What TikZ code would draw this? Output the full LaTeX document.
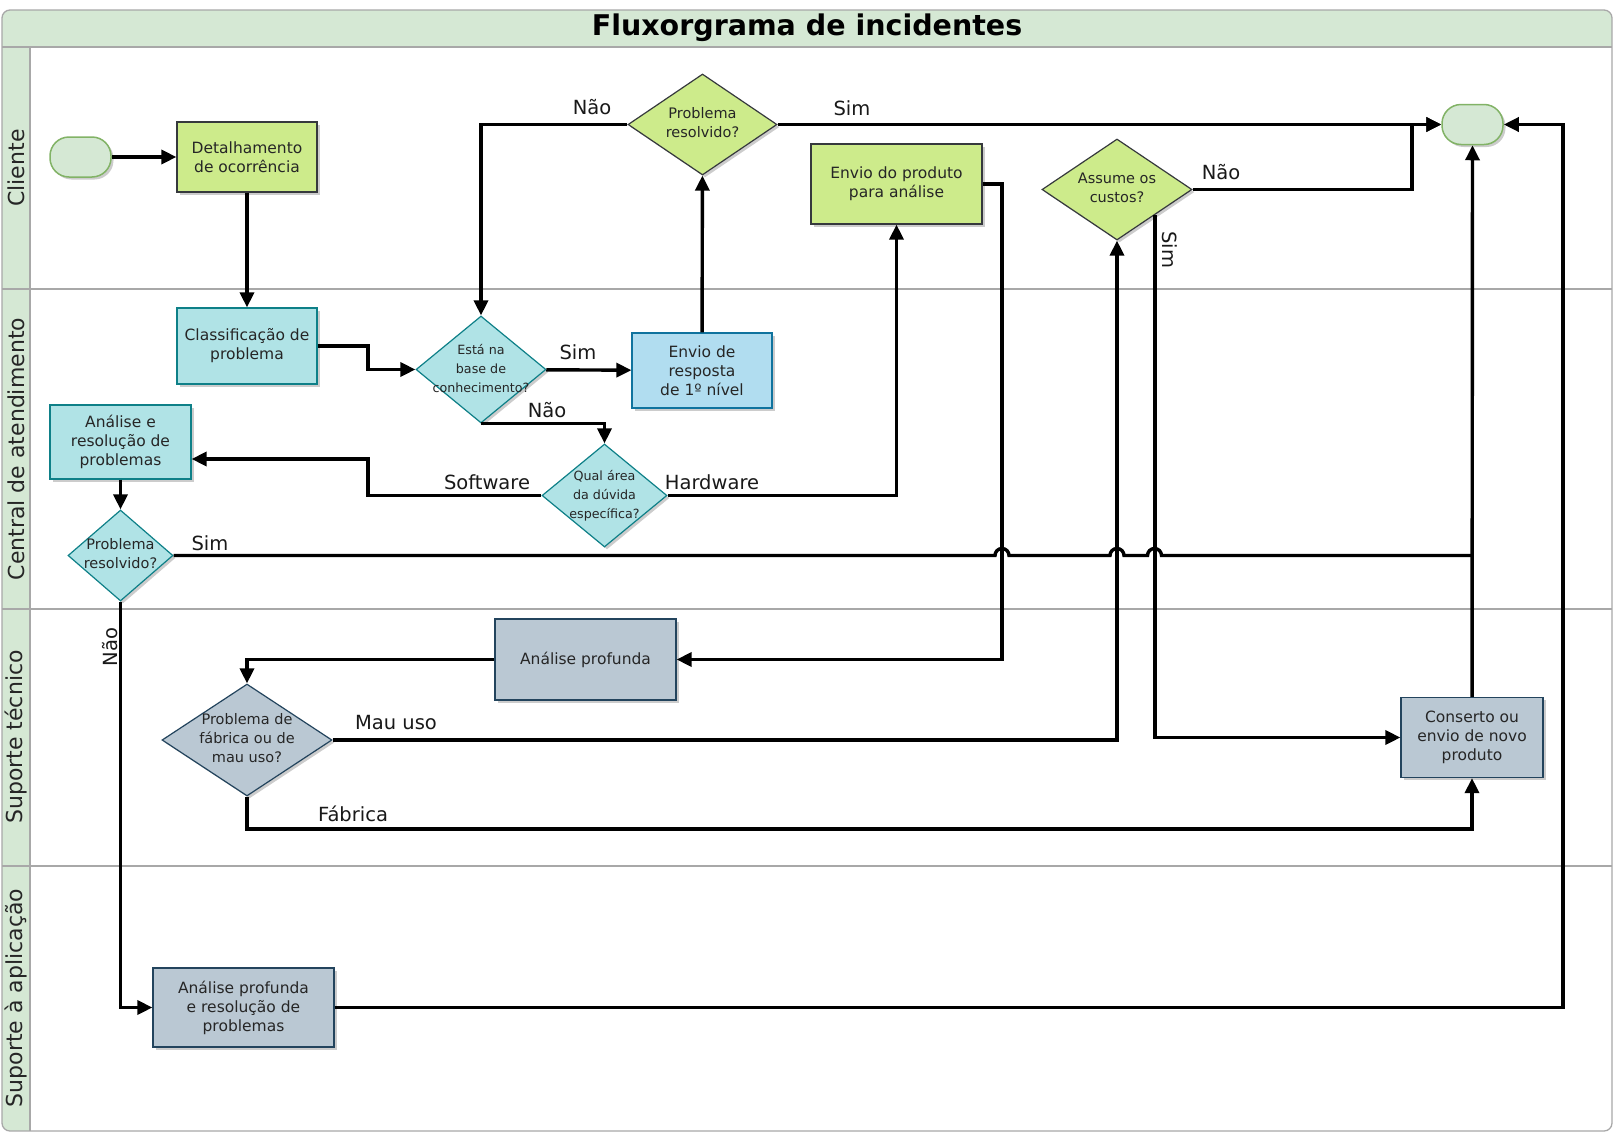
\documentclass[tikz,border=0pt]{standalone}
\usepackage{fontspec}
\setmainfont{DejaVu Sans}
\usetikzlibrary{shapes.geometric,arrows.meta,shadows}

\definecolor{lanegreen}{HTML}{D5E8D4}
\definecolor{termgreen}{HTML}{82B366}
\definecolor{rulegray}{HTML}{A8A8A8}
\definecolor{limefill}{HTML}{CDEB8B}
\definecolor{limedraw}{HTML}{36393D}
\definecolor{tealfill}{HTML}{B0E3E6}
\definecolor{tealdraw}{HTML}{0E8088}
\definecolor{bluefill}{HTML}{B1DDF0}
\definecolor{bluedraw}{HTML}{10739E}
\definecolor{slatefill}{HTML}{BAC8D3}
\definecolor{slatedraw}{HTML}{23445D}

\begin{document}
\begin{tikzpicture}[x=1pt,y=-1pt,
    flow/.style={line width=3.4pt,-{Triangle[length=15pt,width=14pt]}},
    merge/.style={line width=3.4pt},
    shdw/.style={drop shadow={shadow xshift=2.5pt,shadow yshift=-2.5pt,fill=black,opacity=0.2}},
    box/.style={rectangle,line width=1.2pt,align=center,text=black!85,font=\boxfont,shdw},
    dec/.style={diamond,line width=1.2pt,inner sep=0pt,text=black!85,font=\dfont,shdw},
    term/.style={rectangle,rounded corners=19pt,fill=lanegreen,draw=termgreen,line width=1.5pt,minimum width=61pt,minimum height=40pt,shdw},
    lbl/.style={font=\lblfont,inner sep=0pt,text=black!90},
    lanelbl/.style={font=\lanefont,rotate=90,text=black!85},
    lanerule/.style={draw=rulegray,line width=1.3pt},
    limebox/.style={fill=limefill,draw=limedraw},
    tealbox/.style={fill=tealfill,draw=tealdraw},
    bluebox/.style={fill=bluefill,draw=bluedraw},
    slatebox/.style={fill=slatefill,draw=slatedraw}]
    \newcommand{\boxfont}{\fontsize{15.5}{19}\selectfont}
    \newcommand{\dfont}{\fontsize{14.5}{19}\selectfont}
    \newcommand{\sdfont}{\fontsize{12.7}{19}\selectfont}
    \newcommand{\lblfont}{\fontsize{19.5}{23}\selectfont}
    \newcommand{\lanefont}{\fontsize{22}{26}\selectfont}
    \newcommand{\titlefont}{\fontsize{28.5}{34}\selectfont\bfseries}
    \newcommand{\dtxt}[1]{\makebox[0pt]{\begin{tabular}{@{}c@{}}#1\end{tabular}}}

    \useasboundingbox (0,0) rectangle (1616,1135);

    % pool and lanes
    \begin{scope}
        \clip[rounded corners=8pt] (2,10) rectangle (1612,1131);
        \fill[white] (2,10) rectangle (1612,1131);
        \fill[lanegreen] (2,10) rectangle (1612,47);
        \fill[lanegreen] (2,47) rectangle (30,1131);
    \end{scope}
    \draw[lanerule] (2,47) -- (1612,47);
    \draw[lanerule] (30,47) -- (30,1131);
    \foreach \y in {289,609,866}
        \draw[lanerule] (2,\y) -- (1612,\y);
    \draw[lanerule,rounded corners=8pt] (2,10) rectangle (1612,1131);

    \node[font=\titlefont] (title) at (807,28) {Fluxorgrama de incidentes};
    \node[lanelbl] (lcli) at (16,168) {Cliente};
    \node[lanelbl] (lcen) at (16,449) {Central de atendimento};
    \node[lanelbl] (ltec) at (16,737) {Suporte técnico};
    \node[lanelbl] (lapl) at (16,998) {Suporte à aplicação};

    % steps
    \node[term] (start) at (80.5,157) {};
    \node[box,limebox,minimum width=140pt,minimum height=70pt] (det) at (247,157) {Detalhamento\\de ocorrência};
    \node[box,tealbox,minimum width=140pt,minimum height=76pt] (cls) at (247,346) {Classificação de\\problema};
    \node[dec,tealbox,minimum width=130pt,minimum height=107pt,font=\sdfont] (kb) at (481,369.5) {\dtxt{Está na\\base de\\conhecimento?}};
    \node[box,bluebox,minimum width=140pt,minimum height=75pt] (resp) at (702,370.5) {Envio de\\resposta\\de 1º nível};
    \node[dec,limebox,minimum width=149pt,minimum height=101pt] (pr1) at (702.5,124.5) {\dtxt{Problema\\resolvido?}};
    \node[box,limebox,minimum width=171pt,minimum height=80pt] (env) at (896.5,184) {Envio do produto\\para análise};
    \node[dec,limebox,minimum width=150pt,minimum height=101pt] (cust) at (1117,189.5) {\dtxt{Assume os\\custos?}};
    \node[term] (end) at (1472.5,124.5) {};
    \node[dec,tealbox,minimum width=125pt,minimum height=103pt,font=\sdfont] (area) at (604.5,495.5) {\dtxt{Qual área\\da dúvida\\específica?}};
    \node[box,tealbox,minimum width=141pt,minimum height=74pt] (ana) at (120.5,442) {Análise e\\resolução de\\problemas};
    \node[dec,tealbox,minimum width=105pt,minimum height=91pt] (pr2) at (120.5,555.5) {\dtxt{Problema\\resolvido?}};
    \node[box,slatebox,minimum width=181pt,minimum height=81pt] (prof) at (585.5,659.5) {Análise profunda};
    \node[dec,slatebox,minimum width=170pt,minimum height=112pt] (fab) at (247,740) {\dtxt{Problema de\\fábrica ou de\\mau uso?}};
    \node[box,slatebox,minimum width=142pt,minimum height=80pt] (cons) at (1472,737.5) {Conserto ou\\envio de novo\\produto};
    \node[box,slatebox,minimum width=181pt,minimum height=79pt] (apl) at (243.5,1007.5) {Análise profunda\\e resolução de\\problemas};

    \coordinate (jn) at (cons.north |- pr2.east);

    % connectors
    \draw[flow] (start) -- (det);
    \draw[flow] (det) -- (cls);
    \draw[flow] (cls.east) -- (368,346) |- (kb.west);
    \draw[flow] (kb) -- (resp);
    \draw[flow] (resp) -- (pr1);
    \draw[flow] (pr1.west) -| (kb.north);
    \draw[flow] (pr1.east) -- (end.west);
    \draw[flow] (kb.south) -| (area.north);
    \draw[flow] (area.west) -- (368,495.5) -- (368,459) -- (ana.east |- 0,459);
    \draw[flow] (area.east) -| (env.south);
    \draw[flow] (env.east) -- (1002,184) |- (prof.east);
    \draw[flow] (prof.west) -| (fab.north);
    \draw[flow] (ana) -- (pr2);
    \draw[merge] (pr2.east) -- (995,555.5) arc (180:360:7) -- (1110,555.5) arc (180:360:7)
        -- (1147.5,555.5) arc (180:360:7) -- (jn);
    \draw[flow] (pr2.south) |- (apl.west);
    \draw[flow] (fab.east) -| (cust.south);
    \draw[flow] (fab.south) -- (247,829) -| (cons.south);
    \draw[flow] (cust.east) -- (1412,189.5) |- (end.west);
    \draw[flow] (cust.south east) |- (cons.west);
    \draw[flow] (cons) -- (end);
    \draw[flow] (apl.east) -- (1563,1007.5) |- (end.east);

    % labels
    \node[lbl] (ysim1) at (578,352) {Sim};
    \node[lbl] (nnao1) at (547,410) {Não};
    \node[lbl] (nnao2) at (592,107) {Não};
    \node[lbl] (ysim2) at (852,108) {Sim};
    \node[lbl] (soft) at (487,482) {Software};
    \node[lbl] (hard) at (712,482) {Hardware};
    \node[lbl] (nnao3) at (1221,172) {Não};
    \node[lbl,rotate=-90] (ysim3) at (1170,250) {Sim};
    \node[lbl] (ysim4) at (210,543) {Sim};
    \node[lbl,rotate=90] (nnao4) at (110,647) {Não};
    \node[lbl] (mau) at (396,723) {Mau uso};
    \node[lbl] (fabr) at (353,814) {Fábrica};
\end{tikzpicture}
\end{document}
